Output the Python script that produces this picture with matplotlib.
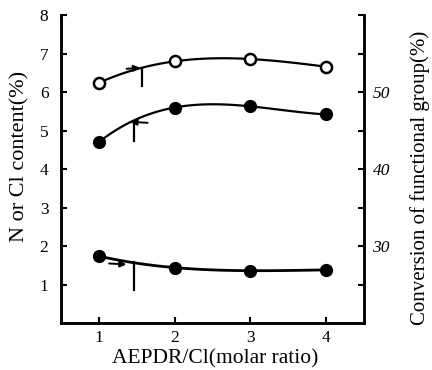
import matplotlib.pyplot as plt
import numpy as np

plt.rcParams['font.family'] = ['Liberation Serif', 'DejaVu Serif']

ratio = [1, 2, 3, 4]
# open circles, conversion (right axis, %)
conv_open = [51.2, 54.0, 54.3, 53.3]
# filled circles, N or Cl content (left axis, %)
content = [4.7, 5.6, 5.63, 5.42]
# filled circles, lower series (right axis, %)
conv_low = [28.7, 27.2, 26.8, 26.9]

left_ticks = [1, 2, 3, 4, 5, 6, 7, 8]
right_ticks = [25, 30, 35, 40, 45, 50, 55, 60]
right_labels = ['', '30', '', '40', '', '50', '', '']


def smooth(x, y):
    xs = np.linspace(min(x), max(x), 100)
    return xs, np.polyval(np.polyfit(x, y, 3), xs)


fig = plt.figure(figsize=(4.32, 3.70), dpi=100)
ax = fig.add_axes([0.141, 0.127, 0.702, 0.832])
ax2 = ax.twinx()

ax.set_xlim(0.5, 4.5)
ax.set_ylim(0, 8)
ax2.set_ylim(20, 60)

xs, ys = smooth(ratio, content)
ax.plot(xs, ys, color='black', lw=1.6)
ax.plot(ratio, content, 'o', color='black', ms=8.5)

xs, ys = smooth(ratio, conv_open)
ax2.plot(xs, ys, color='black', lw=1.6)
ax2.plot(ratio, conv_open, 'o', mfc='white', mec='black', mew=1.8, ms=8)

xs, ys = smooth(ratio, conv_low)
ax2.plot(xs, ys, color='black', lw=2.0)
ax2.plot(ratio, conv_low, 'o', color='black', ms=8.5)

# direction arrows showing which axis each curve belongs to
arr = dict(arrowstyle='-|>', color='black', lw=1.4, mutation_scale=9)
ax.annotate('', xy=(1.58, 6.64), xytext=(1.33, 6.6), arrowprops=arr)
ax.plot([1.57, 1.57], [6.15, 6.6], color='black', lw=1.6)
ax.annotate('', xy=(1.38, 5.23), xytext=(1.68, 5.2), arrowprops=arr)
ax.plot([1.47, 1.47], [4.72, 5.25], color='black', lw=1.6)
ax.annotate('', xy=(1.4, 1.52), xytext=(1.1, 1.55), arrowprops=arr)
ax.plot([1.47, 1.47], [0.86, 1.58], color='black', lw=1.6)

for a in (ax, ax2):
    for s in a.spines.values():
        s.set_linewidth(1.8)
ax.spines['top'].set_visible(False)
ax2.spines['top'].set_visible(False)

ax.set_xticks(ratio)
ax.set_yticks(left_ticks)
ax2.set_yticks(right_ticks)
ax2.set_yticklabels(right_labels, style='italic')
ax.tick_params(direction='in', length=4, width=1.5, labelsize=12.5)
ax.tick_params(axis='y', pad=9)
ax.tick_params(axis='x', pad=5)
ax2.tick_params(direction='in', length=4, width=1.5, labelsize=12.5, pad=6)

ax.set_xlabel('AEPDR/Cl(molar ratio)', fontsize=15.5)
ax.set_ylabel('N or Cl content(%)', fontsize=16)
ax2.set_ylabel('Conversion of functional group(%)', fontsize=15)
ax.xaxis.set_label_coords(0.51, -0.118)
ax.yaxis.set_label_coords(-0.135, 0.54)
ax2.yaxis.set_label_coords(1.185, 0.47)
ax.xaxis.label.set_va('center')
ax.yaxis.label.set_va('center')
ax2.yaxis.label.set_va('center')

fig.savefig('out.png', dpi=100)
